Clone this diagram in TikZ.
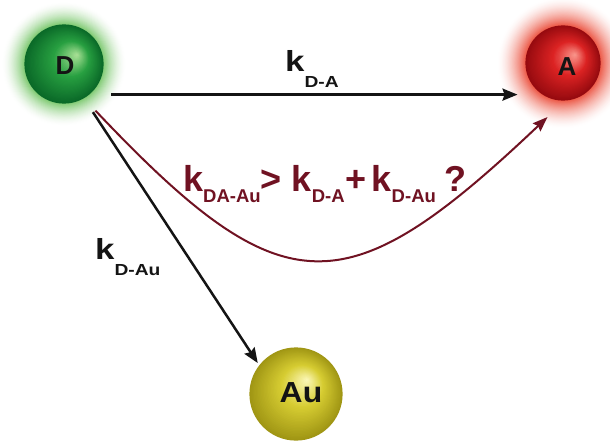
\documentclass[tikz,border=0pt]{standalone}
\usepackage{fontspec}
\setmainfont{Liberation Sans}
\usetikzlibrary{arrows.meta}
\definecolor{maroon}{RGB}{112,18,34}
\definecolor{ink}{RGB}{20,20,20}
\definecolor{Dedge}{RGB}{10,105,40}
\definecolor{Dbase}{RGB}{40,160,65}
\definecolor{Dhl}{RGB}{170,225,150}
\definecolor{Dglow}{RGB}{110,195,95}
\definecolor{Aedge}{RGB}{150,10,15}
\definecolor{Abase}{RGB}{220,35,35}
\definecolor{Ahl}{RGB}{250,150,140}
\definecolor{Aglow}{RGB}{235,70,50}
\definecolor{Uedge}{RGB}{160,150,20}
\definecolor{Ubase}{RGB}{215,205,50}
\definecolor{Uhl}{RGB}{252,248,185}
\newcommand{\kr}[1]{{\fontsize{29}{29}\selectfont k}\raisebox{-16.5pt}{\fontsize{16}{16}\selectfont #1}}
\newcommand{\krr}[1]{{\fontsize{36}{36}\selectfont k}\raisebox{-10.7pt}{\fontsize{18.5}{18.5}\selectfont #1}}
\newcommand{\bigsym}[1]{{\fontsize{36}{36}\selectfont #1}}
\newcommand{\glowring}[4]{%
  \foreach \i in {0,...,28}{%
    \pgfmathsetmacro\rr{#3-(#3-#2)*\i/28}%
    \pgfmathsetmacro\pp{100*(\i/28)^1.6}%
    \fill[#4!\pp!white] (#1) circle[radius=\rr pt];}}
\newcommand{\sphereball}[7]{%
  \foreach \i in {0,...,40}{%
    \pgfmathsetmacro\t{\i/40}%
    \pgfmathsetmacro\rr{#2*(1-\t)+0.6}%
    \pgfmathsetmacro\pa{min(100,100*\t/0.55)}%
    \pgfmathsetmacro\qb{100-max(0,100*(\t-0.55)/0.45)}%
    \pgfmathsetmacro\dx{\t*#3}%
    \pgfmathsetmacro\dy{\t*#4}%
    \fill[#6!\pa!#5!\qb!#7] ([shift={(\dx,\dy)}]#1) circle[radius=\rr pt];}}
\tikzset{
  spherenode/.style={circle, inner sep=0pt, font=\bfseries\fontsize{26}{26}\selectfont, text=ink},
  ratelabel/.style={inner sep=0pt, anchor=base west, font=\bfseries, text=ink},
  blackarrow/.style={draw=ink, line width=2.5pt, -{Stealth[length=15pt,width=12pt,inset=2pt]}},
  redarrow/.style={draw=maroon, line width=2pt, -{Stealth[length=15pt,width=11pt,inset=2pt]}}
}
\begin{document}
\begin{tikzpicture}[x=1pt,y=-1pt]
\useasboundingbox[fill=white] (0,0) rectangle (610,444);
\coordinate (Dc) at (64,64);
\coordinate (Ac) at (563,63);
\coordinate (Uc) at (296,394);
% glows
\glowring{Dc}{38}{62}{Dglow}
\glowring{Ac}{36}{66}{Aglow}
% named nodes (invisible circles carrying the connectors)
\node[spherenode, minimum size=112pt] (D) at (Dc) {};
\node[spherenode, minimum size=112pt] (A) at (Ac) {};
\node[spherenode, minimum size=98pt] (Au) at (Uc) {};
% connectors
\draw[blackarrow] (D.-33) -- (D.-33 -| A.216);
\draw[blackarrow] (D.-59) -- (Au.141);
\draw[redarrow] (D.-56) .. controls (283,309) and (345,309) .. (A.254);
% spheres
\sphereball{Dc}{39}{13}{-9}{Dedge}{Dbase}{Dhl}
\sphereball{Ac}{37}{12}{-8}{Aedge}{Abase}{Ahl}
\sphereball{Uc}{46}{11}{-14}{Uedge}{Ubase}{Uhl}
\node[spherenode] (Dt) at (65,66) {D};
\node[spherenode] (At) at (567,67) {A};
\node[spherenode, font=\bfseries\fontsize{29}{29}\selectfont] (Aut) at (301,393) {\scalebox{1.1}[1]{Au}};
% rate labels
\node[ratelabel] (kDA) at (285,71) {\scalebox{1.2}[1]{\kr{D-A}}};
\node[ratelabel] (kDAu) at (95,259) {\scalebox{1.2}[1]{\kr{D-Au}}};
\node[ratelabel, text=maroon] (kcmp) at (183,191.3) {\krr{DA-Au}\bigsym{>}\hspace{10pt}\krr{D-A}\hspace{1pt}\bigsym{+}\hspace{5pt}\krr{D-Au}\hspace{9pt}\bigsym{?}};
\end{tikzpicture}
\end{document}
